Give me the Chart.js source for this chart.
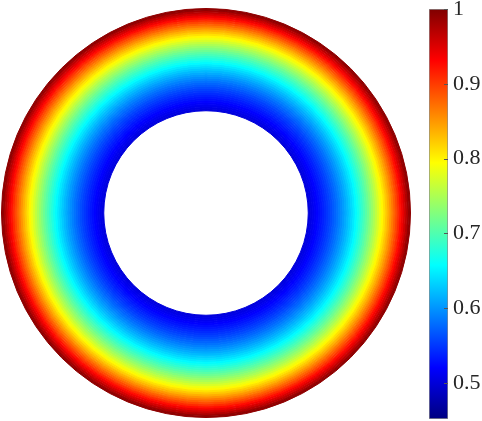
<!DOCTYPE html>
<html lang="en">
<head>
  <meta charset="UTF-8">
  <title>Annulus field</title>
  <script src="https://cdn.jsdelivr.net/npm/chart.js"></script>
  <style>
    body { margin: 0; background: #fff; width: 482px; height: 421px; overflow: hidden; position: relative; }
    #ringBox { position: absolute; left: 1px; top: 8px; width: 410px; height: 410px; }
    #barBox { position: absolute; left: 420px; top: 0; width: 62px; height: 421px; }
  </style>
</head>
<body>
  <div id="ringBox"><canvas id="ringChart"></canvas></div>
  <div id="barBox"><canvas id="barChart"></canvas></div>

  <script>
    // field value of each ring, from inner edge (r = 0.5) to outer edge (r = 1)
    const ringValues = [
      0.5022, 0.5066, 0.5113, 0.5161, 0.5211, 0.5263, 0.5316, 0.5372, 0.5430, 0.5489,
      0.5551, 0.5615, 0.5681, 0.5749, 0.5819, 0.5891, 0.5966, 0.6043, 0.6122, 0.6204,
      0.6288, 0.6374, 0.6463, 0.6555, 0.6649, 0.6745, 0.6844, 0.6946, 0.7050, 0.7157,
      0.7267, 0.7379, 0.7494, 0.7612, 0.7733, 0.7857, 0.7984, 0.8114, 0.8247, 0.8382,
      0.8521, 0.8663, 0.8808, 0.8957, 0.9108, 0.9263, 0.9421, 0.9582, 0.9747, 0.9915
    ];
    const innerRadius = 0.5;   // hole radius / outer radius
    const colorLimits = [0.452, 1];
    const colorTicks = [0.5, 0.6, 0.7, 0.8, 0.9, 1];

    function jet(v) {
      const t = Math.min(Math.max((v - colorLimits[0]) / (colorLimits[1] - colorLimits[0]), 0), 1);
      const c = x => Math.round(255 * Math.min(Math.max(1.5 - Math.abs(4 * t - x), 0), 1));
      return 'rgb(' + c(3) + ',' + c(2) + ',' + c(1) + ')';
    }

    // doughnut: first dataset is drawn outermost
    const ringSets = ringValues.slice().reverse().map(v => ({
      data: [1],
      backgroundColor: jet(v),
      borderColor: jet(v),
      borderWidth: 1,
      hoverOffset: 0
    }));

    new Chart(document.getElementById('ringChart'), {
      type: 'doughnut',
      data: { labels: ['r'], datasets: ringSets },
      options: {
        responsive: true,
        maintainAspectRatio: false,
        animation: false,
        events: [],
        cutout: (innerRadius * 100) + '%',
        layout: { padding: 0 },
        plugins: { legend: { display: false }, tooltip: { enabled: false } }
      }
    });

    // colorbar
    const tickMarks = {
      id: 'tickMarks',
      afterDatasetsDraw(chart) {
        const y = chart.scales.y, area = chart.chartArea, ctx = chart.ctx;
        ctx.save();
        ctx.strokeStyle = '#555';
        ctx.lineWidth = 1;
        colorTicks.forEach(v => {
          const py = Math.round(y.getPixelForValue(v)) + 0.5;
          ctx.beginPath();
          ctx.moveTo(area.right - 4, py);
          ctx.lineTo(area.right, py);
          ctx.stroke();
        });
        ctx.restore();
      }
    };

    new Chart(document.getElementById('barChart'), {
      type: 'bar',
      data: {
        labels: [''],
        datasets: [{
          data: [colorLimits],
          barPercentage: 1,
          categoryPercentage: 1,
          borderWidth: 1,
          borderColor: '#8c8c8c',
          borderSkipped: false,
          backgroundColor: ctx => {
            const chart = ctx.chart;
            if (!chart.chartArea) return '#888';
            const y = chart.scales.y;
            const g = chart.ctx.createLinearGradient(0, y.getPixelForValue(colorLimits[0]), 0, y.getPixelForValue(colorLimits[1]));
            [0, 0.125, 0.375, 0.625, 0.875, 1].forEach(s => {
              g.addColorStop(s, jet(colorLimits[0] + s * (colorLimits[1] - colorLimits[0])));
            });
            return g;
          }
        }]
      },
      options: {
        responsive: true,
        maintainAspectRatio: false,
        animation: false,
        events: [],
        layout: { padding: { left: 9, top: 9, bottom: 2, right: 0 } },
        plugins: { legend: { display: false }, tooltip: { enabled: false } },
        scales: {
          x: { display: false },
          y: {
            position: 'right',
            min: colorLimits[0],
            max: colorLimits[1],
            border: { display: false },
            grid: { display: false, drawTicks: false },
            afterBuildTicks: s => { s.ticks = colorTicks.map(v => ({ value: v })); },
            afterFit: s => { s.width = 34; s.paddingTop = 0; s.paddingBottom = 0; },
            ticks: {
              padding: 5,
              color: '#262626',
              font: { family: 'Liberation Serif', size: 22 },
              callback: v => String(Number(v.toFixed(1)))
            }
          }
        }
      },
      plugins: [tickMarks]
    });
  </script>
</body>
</html>
